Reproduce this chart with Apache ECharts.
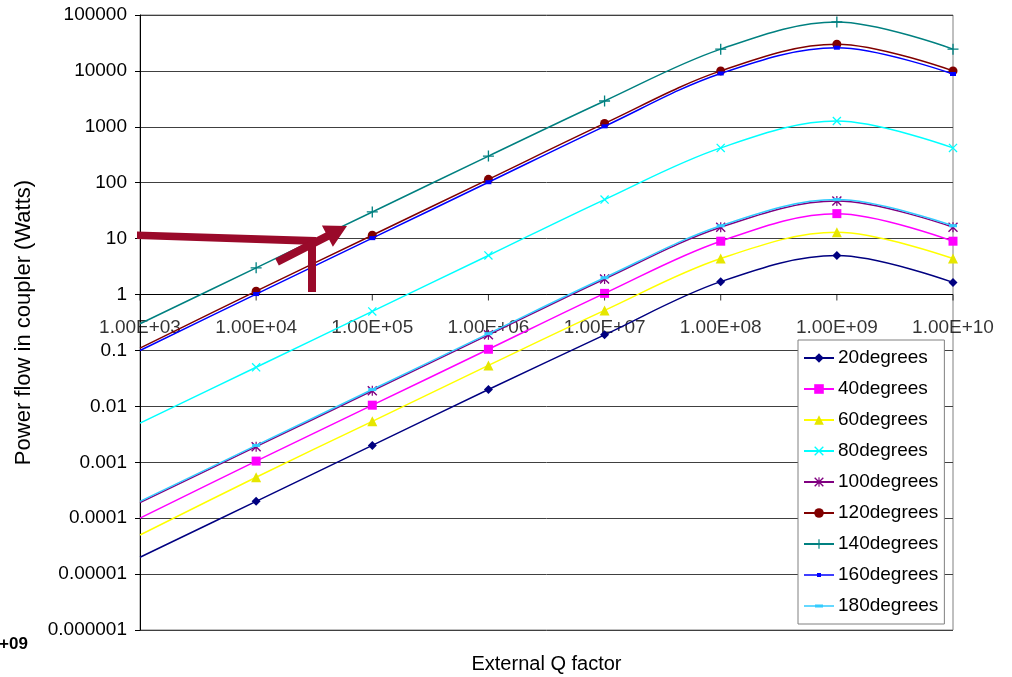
<!DOCTYPE html>
<html>
<head>
<meta charset="utf-8">
<script src="https://cdn.jsdelivr.net/npm/echarts@6/dist/echarts.min.js"></script>
<style>
html,body{margin:0;padding:0;background:#fff;}
#chart{width:1012px;height:677px;}
</style>
</head>
<body>
<div id="chart"></div>
<script>
// ---- data ----
const xValues = [1e3, 1e4, 1e5, 1e6, 1e7, 1e8, 1e9, 1e10];
const xTickLabels = ['1.00E+03','1.00E+04','1.00E+05','1.00E+06','1.00E+07','1.00E+08','1.00E+09','1.00E+10'];
const yTickLabels = ['0.000001','0.00001','0.0001','0.001','0.01','0.1','1','10','100','1000','10000','100000'];
const seriesNames = ['20degrees','40degrees','60degrees','80degrees','100degrees','120degrees','140degrees','160degrees','180degrees'];

const deg20  = [0.00002, 0.0002, 0.002, 0.02, 0.19, 1.7, 5, 1.65];
const deg40  = [0.0001, 0.00105, 0.0105, 0.105, 1.05, 9, 28, 9];
const deg60  = [0.00005, 0.00054, 0.0054, 0.054, 0.52, 4.4, 13, 4.4];
const deg80  = [0.005, 0.05, 0.5, 5, 50, 420, 1270, 420];
const deg100 = [0.00019, 0.0019, 0.019, 0.19, 1.9, 16, 47, 16];
const deg120 = [0.11, 1.15, 11.5, 115, 1150, 10000, 30000, 10000];
const deg140 = [0.3, 3, 30, 300, 2900, 24500, 75000, 24500];
const deg160 = [0.1, 1.02, 10.2, 102, 1020, 9000, 26000, 8800];
const deg180 = [0.0002, 0.002, 0.02, 0.2, 2.0, 17, 50, 17];
const seriesValues = [deg20, deg40, deg60, deg80, deg100, deg120, deg140, deg160, deg180];

// ---- styles ----
const FONT = '"Liberation Sans", Arial, sans-serif';
const colors = ['#000080','#FF00FF','#E6E600','#00FFFF','#800080','#800000','#008080','#0000FF','#33CCFF'];
const XPATH = 'path://M0,1L1,0L10,9L9,10Z M9,0L10,1L1,10L0,9Z';
const STARPATH = 'path://M0,1L1,0L10,9L9,10Z M9,0L10,1L1,10L0,9Z M4.4,0H5.6V10H4.4Z';
const PLUSPATH = 'path://M4.4,0H5.6V4.4H10V5.6H5.6V10H4.4V5.6H0V4.4H4.4Z';
const symbols = ['diamond','rect','triangle',XPATH,STARPATH,'circle',PLUSPATH,'rect','rect'];
const symbolSizes = [9, 9, 10, 9, 10, 9, 11, [6,4], [8,3]];
const lineColors = ['#000080','#FF00FF','#FFFF00','#00FFFF','#800080','#800000','#008080','#0000FF','#33CCFF'];
const legendIcons = [null,null,null,null,null,null,null,
  'path://M0,6.2H30V7.8H0Z M13,5H17V9H13Z',
  'path://M0,6.2H30V7.8H0Z M11,5.5H19V8.5H11Z'];

const series = seriesNames.map((name, k) => ({
  name: name,
  type: 'line',
  smooth: 0.35,
  symbol: symbols[k],
  symbolSize: symbolSizes[k],
  showAllSymbol: true,
  clip: true,
  lineStyle: { color: lineColors[k], width: 1.5 },
  itemStyle: { color: colors[k], borderWidth: 0 },
  data: xValues.map((x, i) => i === 0 ? { value: [x, seriesValues[k][i]], symbol: 'none' } : [x, seriesValues[k][i]]),
  z: 3 + k
}));

// x axis drawn at y = 1 (ticks + labels + line)
series.unshift({
  name: '__xaxis',
  type: 'scatter',
  silent: true,
  z: 2,
  symbol: 'rect',
  symbolSize: [1, 6],
  symbolOffset: [0, 3],
  itemStyle: { color: '#000' },
  label: {
    show: true, position: 'bottom', distance: 18,
    fontFamily: FONT, fontSize: 19, color: '#000',
    formatter: p => xTickLabels[p.dataIndex]
  },
  data: xValues.map(x => [x, 1]),
  markLine: {
    silent: true, symbol: 'none', animation: false,
    label: { show: false },
    lineStyle: { color: '#000', width: 1, type: 'solid' },
    data: [{ yAxis: 1 }]
  }
});

const chart = echarts.init(document.getElementById('chart'), null, { renderer: 'canvas' });
chart.setOption({
  animation: false,
  backgroundColor: '#fff',
  textStyle: { fontFamily: FONT },
  grid: { left: 140, right: 59, top: 15, bottom: 47, outerBoundsMode: 'none', containLabel: false, show: true, borderColor: '#808080', borderWidth: 1, backgroundColor: 'transparent' },
  xAxis: {
    type: 'log', logBase: 10, min: 1e3, max: 1e10, interval: 1,
    axisLine: { show: false }, axisTick: { show: false }, axisLabel: { show: false }, splitLine: { show: false },
    name: 'External Q factor', nameLocation: 'middle', nameGap: 24,
    nameTextStyle: { fontFamily: FONT, fontSize: 20, color: '#000' }
  },
  yAxis: {
    type: 'log', logBase: 10, min: 1e-6, max: 1e5, interval: 1,
    axisLine: { show: true, lineStyle: { color: '#000', width: 1 } },
    axisTick: { show: true, length: 5, lineStyle: { color: '#000' } },
    axisLabel: {
      fontFamily: FONT, fontSize: 19, color: '#000', margin: 13,
      formatter: v => yTickLabels[Math.round(Math.log10(v)) + 6]
    },
    splitLine: { show: true, lineStyle: { color: '#404040', width: 1 } },
    name: 'Power flow in coupler (Watts)', nameLocation: 'middle', nameGap: 105,
    nameTextStyle: { fontFamily: FONT, fontSize: 22, color: '#000' }
  },
  legend: {
    data: seriesNames.map((n, k) => legendIcons[k] ? { name: n, icon: legendIcons[k] } : n),
    orient: 'vertical',
    left: 798, top: 340,
    itemWidth: 30, itemHeight: 12, itemGap: 11,
    padding: [8, 6, 8, 5],
    backgroundColor: '#fff',
    borderColor: '#808080', borderWidth: 1,
    selectedMode: false,
    textStyle: { fontFamily: FONT, fontSize: 19, color: '#000', lineHeight: 20, padding: [0,0,0,-1] }
  },
  graphic: [
    { type: 'text', left: -1, top: 636, style: { text: '+09', font: 'bold 17px ' + FONT, fill: '#000' } },
    { type: 'polygon', z: 100, shape: { points: [[137,231.5],[316,237],[316,245],[137,239]] }, style: { fill: '#9a0a2a' } },
    { type: 'polygon', z: 100, shape: { points: [[308,237],[316,237],[316,292],[308,292]] }, style: { fill: '#9a0a2a' } },
    { type: 'polygon', z: 100, shape: { points: [[278.8,265.6],[329.2,239.7],[332.9,246.8],[347,226],[321.9,225.4],[325.6,232.5],[275.2,258.4]] }, style: { fill: '#9a0a2a' } }
  ],
  series: series
});
</script>
</body>
</html>
